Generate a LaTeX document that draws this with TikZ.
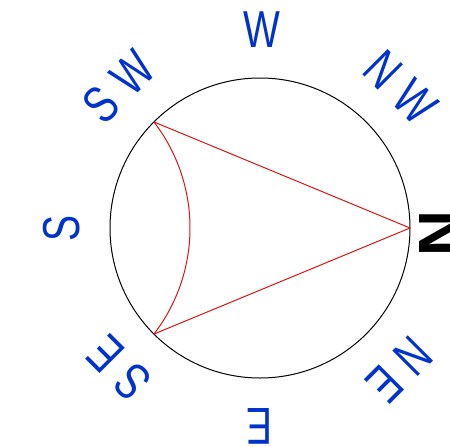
\documentclass[tikz,border=0pt]{standalone}
\usepackage{fontspec}
\newfontfamily\dirfont{Liberation Sans}[FakeStretch=0.75]
\newfontfamily\northfont{Liberation Sans}
\definecolor{dirblue}{RGB}{0,51,204}
\definecolor{chordred}{RGB}{220,20,20}
\tikzstyle{dial}=[circle,draw,line width=0.5pt,minimum size=150pt,inner sep=0pt,outer sep=0pt]
\tikzstyle{card}=[text=dirblue,font=\dirfont\fontsize{26}{30}\selectfont,inner sep=0pt]
\tikzstyle{cardn}=[text=black,font=\northfont\bfseries\fontsize{32}{36}\selectfont,inner sep=0pt]
\tikzstyle{chord}=[draw=chordred,line width=0.5pt]
\newcommand{\gap}{\hspace{6.5pt}}

\begin{document}
\begin{tikzpicture}[x=0.5pt,y=0.5pt]
    \useasboundingbox (0,0) rectangle (450,446);
    \node[dial] (C) at (260,218) {};
    \node[cardn,rotate=-90] (N) at (442,212) {N};
    \node[card,rotate=-45] (NW) at (401,359) {N\gap W};
    \node[card] (W) at (262,416) {W};
    \node[card,rotate=45] (SW) at (119,359) {S\gap W};
    \node[card,rotate=90] (S) at (62,218) {S};
    \node[card,rotate=135] (SE) at (119,78) {S\gap E};
    \node[card,rotate=180] (E) at (259,20) {E};
    \node[card,rotate=225] (NE) at (399,76) {N\gap E};
    \draw[chord] (C.0) -- (C.135);
    \draw[chord] (C.0) -- (C.225);
    \draw[chord] (C.135) arc[start angle=37.56,end angle=-37.56,radius=174];
\end{tikzpicture}
\end{document}
